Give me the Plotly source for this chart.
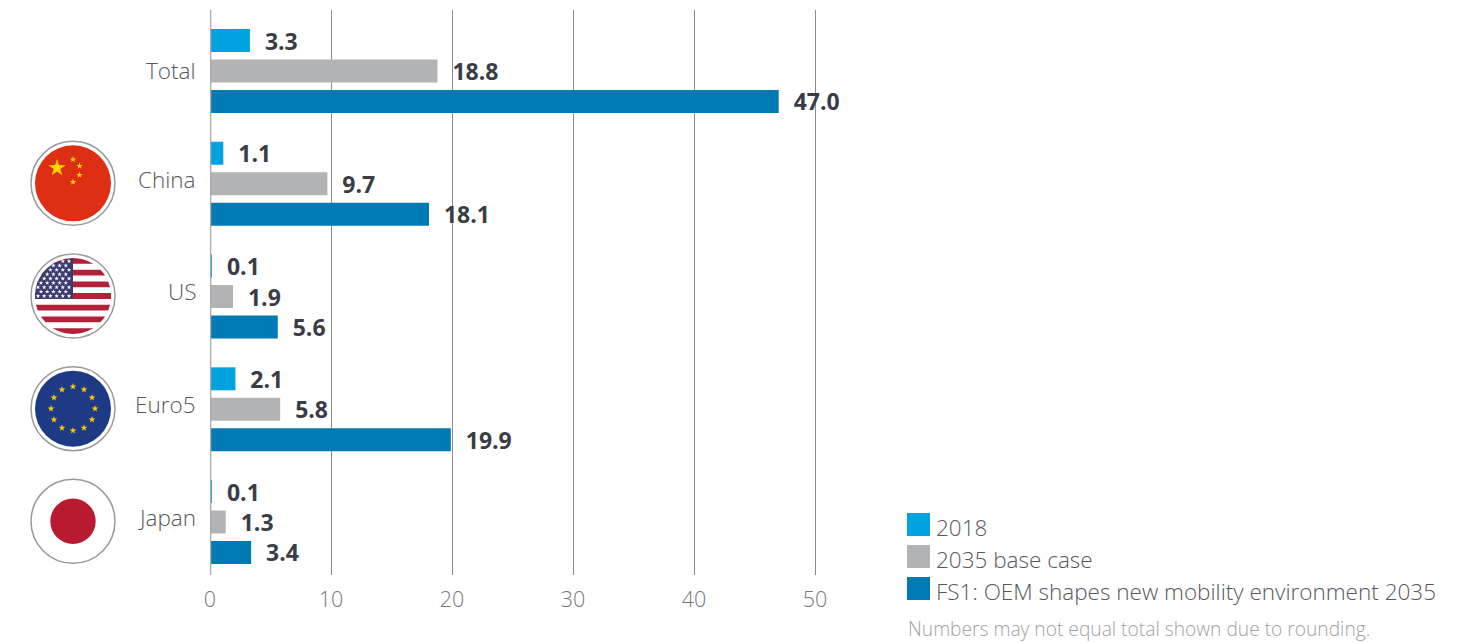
import math
import plotly.graph_objects as go

categories = ["Total", "China", "US", "Euro5", "Japan"]
label_shift = [1, 4, 5, 5, 5]
series_names = ["2018", "2035 base case", "FS1: OEM shapes new mobility environment 2035"]
values_2018 = [3.3, 1.1, 0.1, 2.1, 0.1]
values_base = [18.8, 9.7, 1.9, 5.8, 1.3]
values_fs1 = [47.0, 18.1, 5.6, 19.9, 3.4]
series_values = [values_2018, values_base, values_fs1]
series_colors = ["#00A3E0", "#B1B3B5", "#007AB5"]
x_ticks = [0, 10, 20, 30, 40, 50]
footnote = "Numbers may not equal total shown due to rounding."

W, H = 1471, 643
FONT = "Open Sans"
TXT = "#55585D"
DARK = "#3A3D45"


def px(x):
    return x / W


def py(y):
    return 1 - y / H


def pth(points):
    return "M" + "L".join(f"{px(a):.5f},{py(b):.5f}" for a, b in points) + "Z"


def star(cx, cy, r):
    pts = []
    for i in range(10):
        rad = r if i % 2 == 0 else r * 0.382
        a = -math.pi / 2 + i * math.pi / 5
        pts.append((cx + rad * math.cos(a), cy + rad * math.sin(a)))
    return pth(pts)


def path_shape(path, color):
    return dict(type="path", xref="paper", yref="paper", path=path,
                fillcolor=color, line=dict(width=0), layer="above")


def circle(cx, cy, r, fill, line=None, lw=0):
    return dict(type="circle", xref="paper", yref="paper",
                x0=px(cx - r), x1=px(cx + r), y0=py(cy + r), y1=py(cy - r),
                fillcolor=fill, line=dict(color=line or fill, width=lw), layer="above")


def clipped_band(cx, cy, r, y0, y1, x_max=None):
    """Horizontal band clipped by a circle, as a polygon."""
    left, right = [], []
    n = 8
    for k in range(n + 1):
        y = y0 + (y1 - y0) * k / n
        d = max(r * r - (y - cy) ** 2, 0) ** 0.5
        xr = cx + d if x_max is None else min(cx + d, x_max)
        left.append((cx - d, y))
        right.append((xr, y))
    return pth(left + right[::-1])


R_OUT, R_IN = 42, 38
FX = 73
shapes = []
for fy in (183.3, 296, 408.7, 521.3):
    shapes.append(circle(FX, fy, R_OUT, "#FFFFFF", "#9A9A9A", 1.5))

# Axis line at zero, drawn over the bars
shapes.append(dict(type="line", xref="x", yref="paper", x0=0, x1=0, y0=py(575), y1=py(10),
                   line=dict(color="#ABABAB", width=2.6), layer="above"))

# China
shapes.append(circle(FX, 183.3, R_IN, "#DE2E14"))
china_stars = [(57, 168, 9), (73, 159.5, 3.4), (79.5, 166, 3.4), (79.5, 175, 3.4), (73, 182, 3.4)]
shapes.append(path_shape("".join(star(*s) for s in china_stars), "#FFD800"))

# US
uy = 296
top = uy - R_IN
stripe = 2 * R_IN / 13
red = "".join(clipped_band(FX, uy, R_IN, top + 2 * i * stripe, top + (2 * i + 1) * stripe) for i in range(7))
shapes.append(path_shape(red, "#B02238"))
shapes.append(path_shape(clipped_band(FX, uy, R_IN, top, top + 7 * stripe, x_max=FX), "#3C3B6E"))
us_stars = []
for row in range(9):
    y = top + 3.2 + row * 4.35
    count = 6 if row % 2 == 0 else 5
    start = 38 if row % 2 == 0 else 41
    for c in range(count):
        x = start + c * 6.2
        if (x - FX) ** 2 + (y - uy) ** 2 < (R_IN - 1.5) ** 2:
            us_stars.append(star(x, y, 2.4))
shapes.append(path_shape("".join(us_stars), "#FFFFFF"))

# EU
ey = 408.7
shapes.append(circle(FX, ey, R_IN, "#1F3A85"))
eu_stars = [star(FX + 22 * math.sin(i * math.pi / 6), ey - 22 * math.cos(i * math.pi / 6), 3.6) for i in range(12)]
shapes.append(path_shape("".join(eu_stars), "#FFCC00"))

# Japan
shapes.append(circle(FX, 521.3, 22.7, "#BA1A30"))

# Legend
annotations = []
legend_y = [524.5, 556.5, 588.5]
for name, color, ly in zip(series_names, series_colors, legend_y):
    shapes.append(dict(type="rect", xref="paper", yref="paper",
                       x0=px(907), x1=px(930), y0=py(ly + 11.5), y1=py(ly - 11.5),
                       fillcolor=color, line=dict(width=0), layer="above"))
    annotations.append(dict(xref="paper", yref="paper", x=px(934), y=py(ly + 2.5), text=name,
                            showarrow=False, xanchor="left", yanchor="middle",
                            font=dict(family=FONT, size=22.5, color=TXT, weight=300)))
annotations.append(dict(xref="paper", yref="paper", x=px(906), y=py(628.5), text=footnote,
                        showarrow=False, xanchor="left", yanchor="middle",
                        font=dict(family=FONT, size=19.2, color="#A0A2A5", weight=300)))

# Category labels, on the category scale
for cat, shift in zip(categories, label_shift):
    annotations.append(dict(xref="x", yref="y", x=0, y=cat, text=cat, showarrow=False,
                            xanchor="right", yanchor="middle", xshift=-12, yshift=shift,
                            font=dict(family=FONT, size=22.5, color=TXT, weight=300)))

fig = go.Figure()
for name, vals, color in zip(series_names, series_values, series_colors):
    fig.add_trace(go.Bar(
        y=categories, x=vals, name=name, orientation="h",
        marker=dict(color=color, line=dict(width=0)),
        text=vals, texttemplate="\u00a0\u00a0%{x:.1f}", textposition="outside",
        cliponaxis=False, constraintext="none",
        textfont=dict(family=FONT, size=23, color=DARK, weight=700),
    ))

fig.update_layout(
    width=W, height=H, autosize=False,
    margin=dict(l=0, r=0, t=0, b=0),
    paper_bgcolor="#FFFFFF", plot_bgcolor="#FFFFFF",
    barmode="group", bargap=0.19, bargroupgap=0.246,
    showlegend=False, shapes=shapes, annotations=annotations,
    font=dict(family=FONT),
    xaxis=dict(domain=[px(210), px(817.42)], range=[0, 50.2], tickvals=x_ticks, automargin=False,
               showgrid=True, gridcolor="#8C8C8C", gridwidth=1, zeroline=False,
               showline=False, ticks="", ticklabelstandoff=9,
               tickfont=dict(family=FONT, size=21.5, color="#74777B", weight=300)),
    yaxis=dict(domain=[py(575), py(10)], type="category", categoryorder="array",
               categoryarray=categories, range=[4.47, -0.541], automargin=False,
               showgrid=False, zeroline=False, showline=False, showticklabels=False, ticks=""),
)

fig.write_html("out.html", config=dict(displayModeBar=False),
               post_script="document.body.style.margin='0';document.body.style.overflow='hidden';")
